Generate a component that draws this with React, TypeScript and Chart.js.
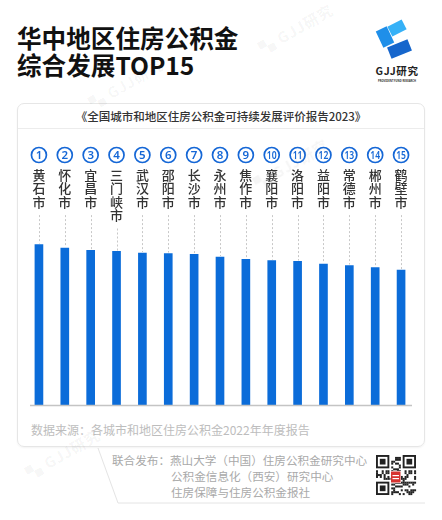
import React, { useEffect, useRef } from "react";
import { Chart, registerables } from "chart.js";

Chart.register(...registerables);

// ---- data ----
const ranks = ["1", "2", "3", "4", "5", "6", "7", "8", "9", "10", "11", "12", "13", "14", "15"];
const cities = ["黄石市", "怀化市", "宜昌市", "三门峡市", "武汉市", "邵阳市", "长沙市", "永州市", "焦作市", "襄阳市", "洛阳市", "益阳市", "常德市", "郴州市", "鹤壁市"];
const scores = [80.2, 78.5, 77.3, 76.8, 76.0, 75.7, 75.3, 74.0, 72.8, 72.2, 71.8, 70.5, 69.7, 68.7, 67.5];
const yMin = 0;
const yMax = 90;

const titleLines = ["华中地区住房公积金", "综合发展TOP15"];
const reportTitle = "《全国城市和地区住房公积金可持续发展评价报告2023》";
const sourceText = "数据来源：各城市和地区住房公积金2022年年度报告";
const publishLabel = "联合发布：";
const publishers = ["燕山大学（中国）住房公积金研究中心", "公积金信息化（西安）研究中心", "住房保障与住房公积金报社"];

const CJK = "'Noto Sans CJK SC', 'Noto Sans', sans-serif";
const BLUE = "#1567d6";

const labelPlugin = {
  id: "topLabels",
  afterDatasetsDraw(chart: any) {
    const { ctx, chartArea, scales } = chart;
    const xs = scales.x;
    const ys = scales.y;
    ctx.save();
    // baseline
    ctx.strokeStyle = "#c4c4c4";
    ctx.lineWidth = 1.5;
    ctx.beginPath();
    ctx.moveTo(chartArea.left + 4, chartArea.bottom + 0.5);
    ctx.lineTo(chartArea.right - 2, chartArea.bottom + 0.5);
    ctx.stroke();

    cities.forEach((name, i) => {
      const x = xs.getPixelForValue(i);
      // circled rank
      ctx.beginPath();
      ctx.arc(x, 25, 7.5, 0, Math.PI * 2);
      ctx.strokeStyle = BLUE;
      ctx.lineWidth = 1.7;
      ctx.stroke();
      ctx.fillStyle = BLUE;
      ctx.textAlign = "center";
      ctx.textBaseline = "middle";
      const n = ranks[i];
      if (n.length > 1) {
        ctx.save();
        ctx.translate(x, 25.5);
        ctx.scale(0.78, 1);
        ctx.font = `600 11px 'Noto Sans', sans-serif`;
        ctx.fillText(n, 0, 0);
        ctx.restore();
      } else {
        ctx.font = `600 11.5px 'Noto Sans', sans-serif`;
        ctx.fillText(n, x, 25.5);
      }
      // vertical city name
      const chars = Array.from(name);
      ctx.fillStyle = "#333";
      ctx.font = `500 13px ${CJK}`;
      chars.forEach((c, k) => ctx.fillText(c, x, 44.8 + k * 13.4));
      const textBottom = 44.8 + (chars.length - 1) * 13.4 + 6.5;
      const barTop = ys.getPixelForValue(scores[i]);
      ctx.setLineDash([2, 2]);
      ctx.strokeStyle = "#c8c8c8";
      ctx.lineWidth = 1;
      const lx = Math.round(x) + 0.5;
      ctx.beginPath();
      ctx.moveTo(lx, textBottom + 7);
      ctx.lineTo(lx, barTop - 1);
      ctx.stroke();
      ctx.setLineDash([]);
    });
    ctx.restore();
  },
};

function qrCells() {
  const n = 21;
  const cells: { x: number; y: number }[] = [];
  const inFinder = (r: number, c: number) =>
    (r < 8 && c < 8) || (r < 8 && c >= n - 8) || (r >= n - 8 && c < 8);
  for (let r = 0; r < n; r++) {
    for (let c = 0; c < n; c++) {
      if (inFinder(r, c)) continue;
      const v = (r * 7 + c * 13 + r * c * 3 + ((r ^ c) & 5)) % 7;
      if (v < 3) cells.push({ x: c, y: r });
    }
  }
  return cells;
}

function Finder({ x, y, m }: { x: number; y: number; m: number }) {
  return (
    <g>
      <rect x={x} y={y} width={7 * m} height={7 * m} fill="#222" />
      <rect x={x + m} y={y + m} width={5 * m} height={5 * m} fill="#fff" />
      <rect x={x + 2 * m} y={y + 2 * m} width={3 * m} height={3 * m} fill="#222" />
    </g>
  );
}

function Watermark({ x, y, a = 0.06 }: { x: number; y: number; a?: number }) {
  return (
    <div
      style={{
        position: "absolute",
        left: x,
        top: y,
        transform: "rotate(-30deg)",
        transformOrigin: "left top",
        color: `rgba(0,0,0,${a})`,
        font: `700 15px ${CJK}`,
        whiteSpace: "nowrap",
        pointerEvents: "none",
        letterSpacing: 1,
      }}
    >
      ▚ GJJ研究
    </div>
  );
}

export default function App() {
  const ref = useRef<HTMLCanvasElement>(null);
  useEffect(() => {
    const chart = new Chart(ref.current as HTMLCanvasElement, {
      type: "bar",
      data: {
        labels: cities,
        datasets: [{ data: scores, backgroundColor: "#0b6cd9", barThickness: 8 }],
      },
      options: {
        animation: false,
        responsive: false,
        maintainAspectRatio: false,
        layout: { padding: { left: 9, right: 11, top: 95, bottom: 7 } },
        plugins: { legend: { display: false }, tooltip: { enabled: false } },
        scales: {
          x: { display: false },
          y: { display: false, min: yMin, max: yMax },
        },
      },
      plugins: [labelPlugin],
    } as any);
    return () => chart.destroy();
  }, []);

  const m = 40 / 21;
  const qx = 376;
  const qy = 455;

  return (
    <div
      style={{
        position: "absolute",
        left: 0,
        top: 0,
        width: 442,
        height: 520,
        background: "#fff",
        overflow: "hidden",
        fontFamily: CJK,
      }}
    >
      {/* Title */}
      <div
        style={{
          position: "absolute",
          left: 17,
          top: 24,
          font: `700 24.6px/27px ${CJK}`,
          color: "#111",
          whiteSpace: "nowrap",
        }}
      >
        {titleLines.map((t) => (
          <div key={t}>{t}</div>
        ))}
      </div>

      {/* decorations svg */}
      <svg width={442} height={520} style={{ position: "absolute", left: 0, top: 0 }}>
        {/* logo */}
        <rect x={389} y={22.5} width={16} height={11} fill="#36b1f7" transform="rotate(-27 397 28)" />
        <rect x={379} y={28} width={12} height={18} fill="#1f8fe9" transform="rotate(-25 385 37)" />
        <rect x={388.5} y={43} width={22} height={12} fill="#1666cc" transform="rotate(-22 399.5 49)" />
        <text x={397} y={74.5} textAnchor="middle" fontFamily={CJK} fontWeight={700} fontSize={10.5} fill="#222" letterSpacing={0.6}>
          GJJ研究
        </text>
        <text x={397} y={81.5} textAnchor="middle" fontFamily="'Noto Sans', sans-serif" fontWeight={700} fontSize={3.4} fill="#333" textLength={38} lengthAdjust="spacingAndGlyphs">
          PROVIDENT FUND RESEARCH
        </text>
        {/* footer shape */}
        <polyline points="98,448 118,503 425,503" fill="none" stroke="#e4e4e4" strokeWidth={1} />
        {/* QR code */}
        <rect x={qx} y={qy} width={40} height={40} fill="#fff" />
        {qrCells().map((c, i) => (
          <rect key={i} x={qx + c.x * m} y={qy + c.y * m} width={m + 0.1} height={m + 0.1} fill="#222" />
        ))}
        <Finder x={qx} y={qy} m={m} />
        <Finder x={qx + 14 * m} y={qy} m={m} />
        <Finder x={qx} y={qy + 14 * m} m={m} />
        <rect x={390.5} y={471} width={10.5} height={12} fill="#fff" />
        <rect x={391} y={471.5} width={9.5} height={11} fill="#d63330" />
        <rect x={392.5} y={475} width={6.5} height={1.2} fill="#fff" />
        <rect x={392.5} y={478} width={6.5} height={1.2} fill="#fff" />
      </svg>

      {/* Card */}
      <div
        style={{
          position: "absolute",
          left: 17,
          top: 103,
          width: 406,
          height: 342,
          border: "1px solid #e6e6e6",
          borderRadius: 7,
          boxShadow: "0 1px 2px rgba(0,0,0,0.05)",
        }}
      />
      <div
        style={{
          position: "absolute",
          left: 17,
          top: 108,
          width: 408,
          textAlign: "center",
          font: `500 11.5px/16px ${CJK}`,
          color: "#333",
          whiteSpace: "nowrap",
        }}
      >
        {reportTitle}
      </div>
      <div style={{ position: "absolute", left: 18, top: 128, width: 406, height: 1, background: "#ececec" }} />

      <canvas
        ref={ref}
        width={408}
        height={282}
        style={{ position: "absolute", left: 17, top: 130, width: 408, height: 282 }}
      />

      <div
        style={{
          position: "absolute",
          left: 31,
          top: 422,
          font: `400 12px/16px ${CJK}`,
          color: "#bdbdbd",
          whiteSpace: "nowrap",
        }}
      >
        {sourceText}
      </div>

      {/* footer publishers */}
      <div
        style={{
          position: "absolute",
          left: 112,
          top: 452,
          font: `400 11.6px/16px ${CJK}`,
          color: "#a9a9a9",
          whiteSpace: "nowrap",
        }}
      >
        {publishLabel}
        {publishers[0]}
      </div>
      <div
        style={{
          position: "absolute",
          left: 171,
          top: 468,
          font: `400 11.6px/16px ${CJK}`,
          color: "#a9a9a9",
          whiteSpace: "nowrap",
        }}
      >
        {publishers[1]}
        <br />
        {publishers[2]}
      </div>

      {/* faint watermarks */}
      <Watermark x={255} y={40} a={0.05} />
      <Watermark x={85} y={95} a={0.04} />
      <Watermark x={250} y={175} a={0.04} />
      <Watermark x={22} y={465} a={0.05} />
    </div>
  );
}
